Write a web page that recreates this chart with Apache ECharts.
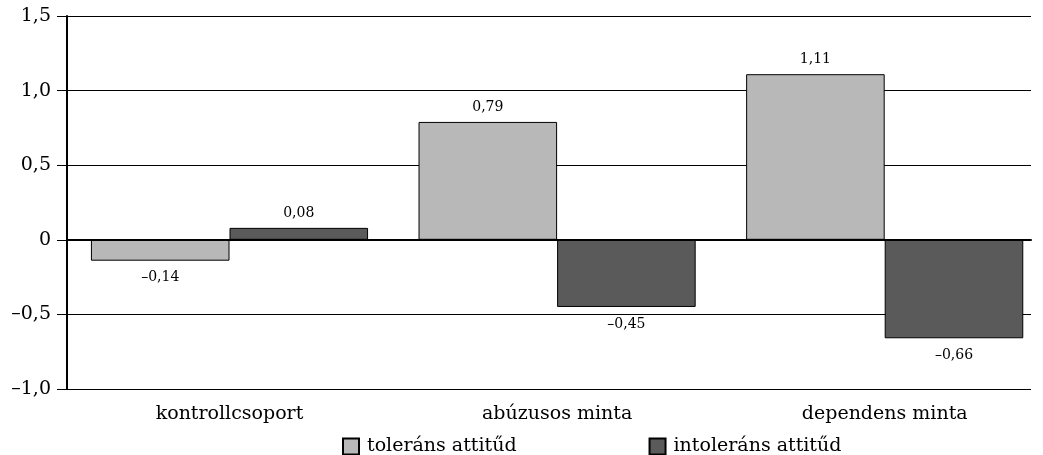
<!DOCTYPE html>
<html>
<head>
<meta charset="utf-8">
<script src="https://cdn.jsdelivr.net/npm/echarts@6/dist/echarts.min.js"></script>
<style>
  html, body { margin: 0; padding: 0; background: #fff; }
  #chart { width: 1043px; height: 455px; }
</style>
</head>
<body>
<div id="chart"></div>
<script>
const categories = ['kontrollcsoport', 'abúzusos minta', 'dependens minta'];
const seriesNames = ['toleráns attitűd', 'intoleráns attitűd'];
const tolerans = [-0.14, 0.79, 1.11];
const intolerans = [0.08, -0.45, -0.66];

const FONT = '"DejaVu Serif", "Liberation Serif", serif';
const Y_MIN = -1.0, Y_MAX = 1.5, Y_STEP = 0.5;

// Hungarian number style: decimal comma, en dash for minus
function fmt(v, digits) {
  if (v === 0) return '0';
  const s = Math.abs(v).toFixed(digits).replace('.', ',');
  return (v < 0 ? '\u2013' : '') + s;
}

function toItems(values) {
  return values.map(v => ({
    value: v,
    label: { position: v >= 0 ? 'top' : 'bottom', distance: v >= 0 ? 8 : 10 }
  }));
}

const chart = echarts.init(document.getElementById('chart'), null, { renderer: 'canvas' });

const barLabel = {
  show: true, fontFamily: FONT, fontSize: 14, color: '#000',
  formatter: p => fmt(p.value, 2)
};

chart.setOption({
  animation: false,
  backgroundColor: '#ffffff',
  textStyle: { fontFamily: FONT, color: '#000' },
  grid: [
    // frame: value axis, grid lines and zero line
    { left: 67, right: 12, top: 16, bottom: 66 },
    // category points (group centres) for bars and their labels
    { left: 229.5, width: 655.2, top: 16, bottom: 66 }
  ],
  legend: {
    top: 437,
    left: 342,
    padding: 0,
    itemGap: 132,
    itemWidth: 16,
    itemHeight: 16,
    icon: 'rect',
    textStyle: { fontFamily: FONT, fontSize: 19, color: '#000', padding: [0, 0, 0, 3] },
    data: seriesNames
  },
  xAxis: [
    {
      type: 'category',
      gridIndex: 0,
      data: categories,
      axisLine: { onZero: true, lineStyle: { color: '#000', width: 2 } },
      axisTick: { show: false },
      axisLabel: { show: false },
      z: 5
    },
    {
      type: 'category',
      gridIndex: 1,
      data: categories,
      boundaryGap: false,
      axisLine: { show: false, onZero: false },
      axisTick: { show: false },
      splitLine: { show: false },
      axisLabel: { fontFamily: FONT, fontSize: 19, color: '#000', margin: 16 }
    }
  ],
  yAxis: [
    {
      type: 'value',
      gridIndex: 0,
      min: Y_MIN,
      max: Y_MAX,
      interval: Y_STEP,
      axisLine: { show: true, lineStyle: { color: '#000', width: 2 } },
      axisTick: { show: true, inside: false, length: 10, lineStyle: { color: '#000', width: 1 } },
      splitLine: { show: true, lineStyle: { color: '#000', width: 1 } },
      axisLabel: {
        fontFamily: FONT, fontSize: 19, color: '#000', margin: 16,
        formatter: v => fmt(v, v === 0 ? 0 : 1)
      }
    },
    {
      type: 'value',
      gridIndex: 1,
      min: Y_MIN,
      max: Y_MAX,
      interval: Y_STEP,
      show: false,
      splitLine: { show: false }
    }
  ],
  series: [
    {
      name: seriesNames[0],
      type: 'bar',
      xAxisIndex: 1,
      yAxisIndex: 1,
      clip: false,
      data: toItems(tolerans),
      barGap: '0%',
      barCategoryGap: '15.4%',
      itemStyle: { color: '#b8b8b8', borderColor: '#000', borderWidth: 1 },
      label: barLabel
    },
    {
      name: seriesNames[1],
      type: 'bar',
      xAxisIndex: 1,
      yAxisIndex: 1,
      clip: false,
      data: toItems(intolerans),
      barGap: '0%',
      barCategoryGap: '15.4%',
      itemStyle: { color: '#5a5a5a', borderColor: '#000', borderWidth: 1 },
      label: barLabel
    }
  ]
});
</script>
</body>
</html>
